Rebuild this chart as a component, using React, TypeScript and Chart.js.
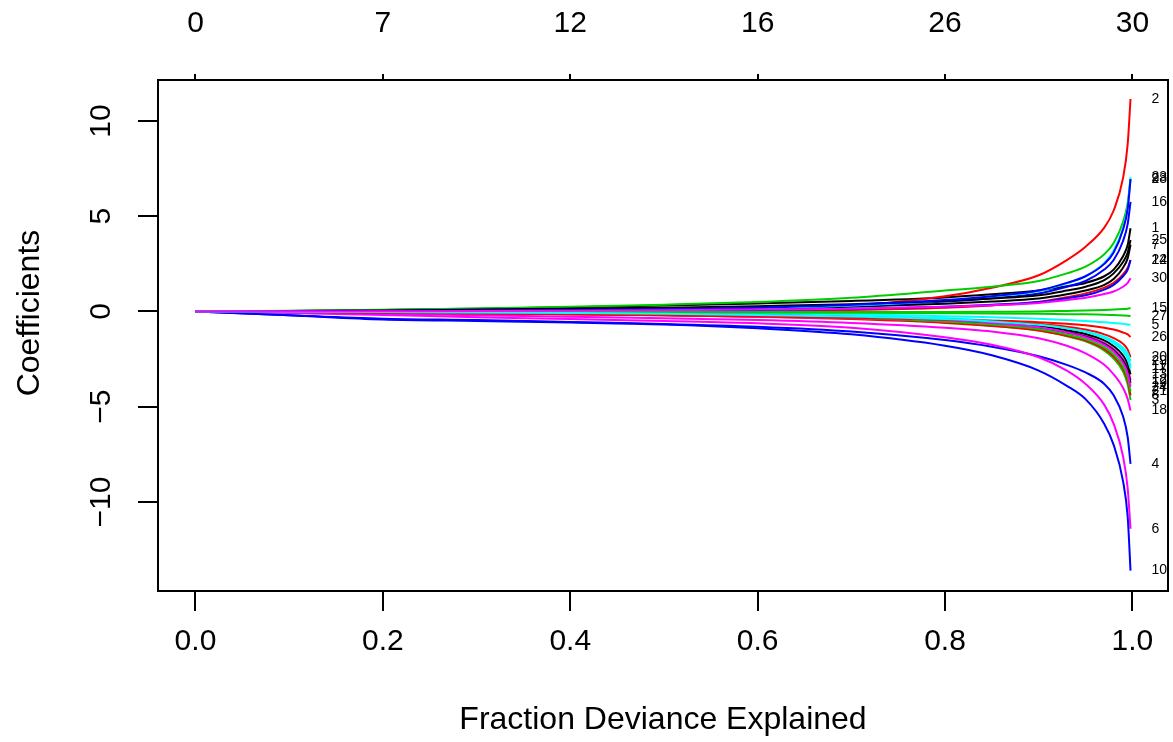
import { useEffect, useRef } from "react";
import { Chart, registerables } from "chart.js";
Chart.register(...registerables);

const FONT = "'Liberation Sans', Arial, Helvetica, sans-serif";

// Fraction of deviance explained at each step of the path
const fracDev = [0, 0.1, 0.2, 0.3, 0.4, 0.5, 0.6, 0.7, 0.8, 0.85, 0.9, 0.93, 0.95, 0.97, 0.98, 0.99, 0.995, 0.998];

// Coefficient paths (one array per variable)
const coef1 = [0, 0.03, 0.08, 0.15, 0.22, 0.31, 0.42, 0.55, 0.74, 0.9, 1.1, 1.32, 1.5, 1.85, 2.2, 2.9, 3.5, 4.37];
const coef2 = [0, 0.0, 0.01, 0.02, 0.03, 0.05, 0.08, 0.3, 0.8, 1.25, 1.9, 2.7, 3.4, 4.4, 5.3, 7.0, 8.8, 11.15];
const coef3 = [0, -0.02, -0.04, -0.07, -0.11, -0.16, -0.24, -0.36, -0.57, -0.75, -1.0, -1.3, -1.57, -2.05, -2.47, -3.15, -3.83, -4.65];
const coef4 = [0, -0.2, -0.38, -0.45, -0.55, -0.65, -0.8, -1.05, -1.5, -1.85, -2.35, -2.8, -3.2, -3.8, -4.4, -5.5, -6.6, -8.0];
const coef5 = [0, 0, -0.01, -0.02, -0.04, -0.06, -0.1, -0.15, -0.25, -0.3, -0.38, -0.45, -0.5, -0.57, -0.61, -0.65, -0.68, -0.7];
const coef6 = [0, -0.08, -0.18, -0.3, -0.4, -0.5, -0.62, -0.85, -1.35, -1.75, -2.4, -3.1, -3.8, -4.9, -5.9, -7.6, -9.3, -11.4];
const coef7 = [0, 0.01, 0.02, 0.04, 0.07, 0.1, 0.15, 0.25, 0.4, 0.52, 0.68, 0.9, 1.1, 1.4, 1.7, 2.3, 2.8, 3.5];
const coef8 = [0, -0.02, -0.05, -0.09, -0.14, -0.2, -0.28, -0.4, -0.6, -0.76, -1.0, -1.28, -1.53, -1.97, -2.36, -3.0, -3.63, -4.4];
const coef9 = [0, 0.04, 0.09, 0.16, 0.25, 0.36, 0.5, 0.72, 1.1, 1.3, 1.6, 2.0, 2.35, 3.0, 3.6, 4.7, 5.7, 6.95];
const coef10 = [0, -0.2, -0.42, -0.5, -0.58, -0.68, -0.88, -1.2, -1.8, -2.3, -3.1, -3.9, -4.6, -5.9, -7.0, -8.9, -10.8, -13.6];
const coef11 = [0, -0.01, -0.02, -0.04, -0.07, -0.1, -0.15, -0.23, -0.38, -0.5, -0.68, -0.88, -1.06, -1.36, -1.62, -2.0, -2.38, -2.85];
const coef12 = [0, -0.02, -0.05, -0.09, -0.14, -0.2, -0.27, -0.36, -0.52, -0.65, -0.85, -1.08, -1.28, -1.65, -1.97, -2.5, -3.0, -3.6];
const coef13 = [0, -0.01, -0.02, -0.04, -0.07, -0.11, -0.17, -0.26, -0.42, -0.55, -0.75, -0.98, -1.18, -1.52, -1.82, -2.3, -2.75, -3.3];
const coef14 = [0, 0, 0, 0, 0.01, 0.02, 0.04, 0.08, 0.2, 0.32, 0.5, 0.75, 0.95, 1.25, 1.5, 1.95, 2.3, 2.7];
const coef15 = [0, 0, 0, 0, 0, -0.01, -0.02, -0.03, -0.03, -0.02, 0, 0.03, 0.05, 0.08, 0.1, 0.13, 0.15, 0.18];
const coef16 = [0, 0.01, 0.02, 0.04, 0.07, 0.1, 0.17, 0.3, 0.52, 0.7, 0.95, 1.3, 1.6, 2.2, 2.7, 3.7, 4.6, 5.75];
const coef17 = [0, 0, -0.01, -0.03, -0.05, -0.08, -0.12, -0.2, -0.35, -0.47, -0.66, -0.88, -1.07, -1.4, -1.68, -2.1, -2.5, -3.0];
const coef18 = [0, -0.05, -0.12, -0.2, -0.28, -0.36, -0.45, -0.6, -0.85, -1.05, -1.4, -1.8, -2.2, -2.8, -3.3, -4.0, -4.6, -5.2];
const coef19 = [0, -0.01, -0.03, -0.06, -0.1, -0.15, -0.22, -0.32, -0.5, -0.64, -0.86, -1.1, -1.32, -1.7, -2.03, -2.58, -3.1, -3.75];
const coef20 = [0, -0.02, -0.05, -0.09, -0.13, -0.18, -0.24, -0.3, -0.42, -0.52, -0.66, -0.8, -0.95, -1.2, -1.4, -1.7, -2.0, -2.4];
const coef21 = [0, -0.01, -0.03, -0.06, -0.1, -0.15, -0.22, -0.33, -0.52, -0.68, -0.92, -1.2, -1.45, -1.87, -2.25, -2.88, -3.47, -4.2];
const coef22 = [0, 0, 0.01, 0.02, 0.03, 0.05, 0.08, 0.13, 0.25, 0.35, 0.5, 0.7, 0.85, 1.15, 1.4, 1.85, 2.2, 2.7];
const coef23 = [0, 0.01, 0.02, 0.04, 0.07, 0.11, 0.18, 0.32, 0.58, 0.78, 1.08, 1.48, 1.85, 2.55, 3.2, 4.4, 5.5, 7.05];
const coef24 = [0, -0.01, -0.02, -0.04, -0.07, -0.11, -0.17, -0.27, -0.45, -0.6, -0.83, -1.1, -1.35, -1.75, -2.1, -2.7, -3.25, -3.95];
const coef25 = [0, 0.02, 0.05, 0.1, 0.15, 0.2, 0.28, 0.38, 0.55, 0.68, 0.85, 1.1, 1.3, 1.65, 2.0, 2.6, 3.1, 3.75];
const coef26 = [0, -0.03, -0.07, -0.11, -0.15, -0.2, -0.26, -0.33, -0.42, -0.48, -0.56, -0.64, -0.72, -0.85, -0.95, -1.1, -1.2, -1.34];
const coef27 = [0, 0, 0, -0.01, -0.02, -0.03, -0.05, -0.07, -0.09, -0.1, -0.12, -0.14, -0.15, -0.17, -0.19, -0.21, -0.22, -0.24];
const coef28 = [0, 0.01, 0.03, 0.05, 0.08, 0.12, 0.2, 0.35, 0.6, 0.8, 1.1, 1.5, 1.85, 2.5, 3.1, 4.3, 5.4, 6.95];
const coef29 = [0, -0.01, -0.03, -0.05, -0.08, -0.12, -0.18, -0.26, -0.4, -0.52, -0.7, -0.88, -1.05, -1.32, -1.55, -1.9, -2.2, -2.6];
const coef30 = [0, 0, 0.01, 0.02, 0.04, 0.06, 0.1, 0.15, 0.25, 0.33, 0.45, 0.6, 0.72, 0.92, 1.05, 1.3, 1.5, 1.75];

const coefPaths = [
  coef1, coef2, coef3, coef4, coef5, coef6, coef7, coef8, coef9, coef10,
  coef11, coef12, coef13, coef14, coef15, coef16, coef17, coef18, coef19, coef20,
  coef21, coef22, coef23, coef24, coef25, coef26, coef27, coef28, coef29, coef30,
];

const pathColors = ["#000000", "#FF0000", "#00CD00", "#0000FF", "#00FFFF", "#FF00FF"];

const xTickValues = [0, 0.2, 0.4, 0.6, 0.8, 1.0];
const xTickLabels = ["0.0", "0.2", "0.4", "0.6", "0.8", "1.0"];
const dfTickLabels = ["0", "7", "12", "16", "26", "30"];
const yTickValues = [-10, -5, 0, 5, 10];
const yTickLabels = ["\u221210", "\u22125", "0", "5", "10"];

const overlayPlugin = {
  id: "overlay",
  afterDraw(chart: any) {
    const { ctx, chartArea, scales } = chart;
    ctx.save();
    ctx.strokeStyle = "#000";
    ctx.lineWidth = 2;
    ctx.strokeRect(chartArea.left, chartArea.top, chartArea.right - chartArea.left, chartArea.bottom - chartArea.top);
    ctx.fillStyle = "#000";
    ctx.font = `30px ${FONT}`;
    ctx.textAlign = "center";
    ctx.textBaseline = "middle";
    yTickValues.forEach((v, i) => {
      const py = scales.y.getPixelForValue(v);
      ctx.save();
      ctx.translate(102, py);
      ctx.rotate(-Math.PI / 2);
      ctx.fillText(yTickLabels[i], 0, 0);
      ctx.restore();
    });
    ctx.font = `32px ${FONT}`;
    ctx.fillText("Fraction Deviance Explained", (chartArea.left + chartArea.right) / 2, 720);
    ctx.save();
    ctx.translate(30, 313);
    ctx.rotate(-Math.PI / 2);
    ctx.fillText("Coefficients", 0, 0);
    ctx.restore();
    ctx.font = `14px ${FONT}`;
    ctx.textAlign = "left";
    const lastX = fracDev[fracDev.length - 1];
    const lx = scales.x.getPixelForValue(lastX) + 21;
    coefPaths.forEach((c, i) => {
      ctx.fillText(String(i + 1), lx, scales.y.getPixelForValue(c[c.length - 1]));
    });
    ctx.restore();
  },
};

export default function App() {
  const canvasRef = useRef<HTMLCanvasElement | null>(null);

  useEffect(() => {
    document.body.style.margin = "0";
    const canvas = canvasRef.current;
    if (!canvas) return;
    const datasets = coefPaths.map((c, i) => ({
      label: String(i + 1),
      data: fracDev.map((x, j) => ({ x, y: c[j] })),
      borderColor: pathColors[i % 6],
      backgroundColor: pathColors[i % 6],
      borderWidth: 2,
      pointRadius: 0,
      fill: false,
      cubicInterpolationMode: "monotone" as const,
      order: -i,
    }));
    const axisGrid = (len: number) => ({
      drawOnChartArea: false,
      drawTicks: true,
      tickLength: len,
      color: "#000",
      tickColor: "#000",
      lineWidth: 2,
    });
    const chart = new Chart(canvas, {
      type: "line",
      data: { datasets },
      plugins: [overlayPlugin],
      options: {
        responsive: false,
        animation: false,
        layout: { padding: { left: 0, right: 5, top: 0, bottom: 0 } },
        plugins: { legend: { display: false }, tooltip: { enabled: false } },
        scales: {
          x: {
            type: "linear",
            position: "bottom",
            min: -0.04,
            max: 1.038,
            afterBuildTicks: (s: any) => {
              s.ticks = xTickValues.map((v) => ({ value: v }));
            },
            afterFit: (s: any) => {
              s.height = 151;
              s.paddingLeft = 0;
              s.paddingRight = 0;
            },
            ticks: {
              autoSkip: false,
              maxRotation: 0,
              minRotation: 0,
              padding: 13,
              color: "#000",
              font: { family: FONT, size: 30 },
              callback: (_v: any, i: number) => xTickLabels[i],
            },
            grid: axisGrid(20),
            border: { display: true, color: "#000", width: 2 },
          },
          xTop: {
            type: "linear",
            position: "top",
            min: -0.04,
            max: 1.038,
            afterBuildTicks: (s: any) => {
              s.ticks = xTickValues.map((v) => ({ value: v }));
            },
            afterFit: (s: any) => {
              s.height = 80;
              s.paddingLeft = 0;
              s.paddingRight = 0;
            },
            ticks: {
              autoSkip: false,
              maxRotation: 0,
              minRotation: 0,
              padding: 32,
              color: "#000",
              font: { family: FONT, size: 30 },
              callback: (_v: any, i: number) => dfTickLabels[i],
            },
            grid: axisGrid(6),
            border: { display: true, color: "#000", width: 2 },
          },
          y: {
            type: "linear",
            min: -14.67,
            max: 12.15,
            afterBuildTicks: (s: any) => {
              s.ticks = yTickValues.map((v) => ({ value: v }));
            },
            afterFit: (s: any) => {
              s.width = 158;
              s.paddingTop = 0;
              s.paddingBottom = 0;
            },
            ticks: { display: false },
            grid: axisGrid(20),
            border: { display: true, color: "#000", width: 2 },
          },
        },
      },
    } as any);
    return () => chart.destroy();
  }, []);

  return (
    <div style={{ position: "absolute", left: 0, top: 0, width: 1173, height: 742, background: "#fff" }}>
      <canvas ref={canvasRef} width={1173} height={742} style={{ display: "block" }} />
    </div>
  );
}
